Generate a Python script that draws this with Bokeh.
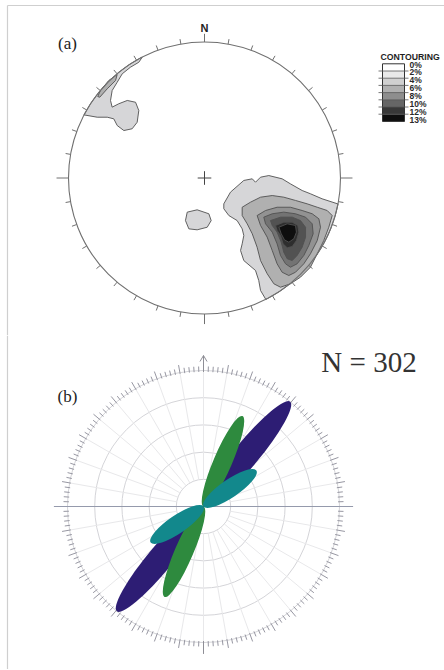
import numpy as np
from bokeh.plotting import figure
from bokeh.layouts import column
from bokeh.models import Range1d
from bokeh.core.properties import value
from bokeh.embed import file_html
from bokeh.resources import INLINE

# ---------------- DATA ----------------
# (a) contour outlines, stereonet units (primitive circle radius = 1)
se_2_x = [0.451, 0.412, 0.399, 0.375, 0.289, 0.265, 0.277, 0.289, 0.277, 0.240, 0.179, 0.142,
          0.142, 0.191, 0.289, 0.351, 0.375, 0.412, 0.473, 0.571, 0.632, 0.718, 0.779, 0.865, 0.982]
se_2_y = [-0.893, -0.827, -0.754, -0.680, -0.607, -0.533, -0.484, -0.423, -0.374, -0.313, -0.276, -0.226,
          -0.190, -0.104, -0.018, -0.006, -0.031, 0.006, 0.018, -0.006, -0.043, -0.092, -0.116, -0.153, -0.191]
se_4_x = [0.277, 0.338, 0.412, 0.498, 0.583, 0.669, 0.755, 0.829, 0.902, 0.939, 0.914, 0.877,
          0.829, 0.779, 0.706, 0.632, 0.559, 0.510, 0.461, 0.412, 0.387, 0.351, 0.314, 0.277]
se_4_y = [-0.215, -0.178, -0.141, -0.129, -0.141, -0.165, -0.190, -0.215, -0.239, -0.276, -0.362, -0.460,
          -0.557, -0.656, -0.729, -0.778, -0.803, -0.778, -0.704, -0.607, -0.509, -0.410, -0.337, -0.276]
se_6_x = [0.387, 0.449, 0.534, 0.632, 0.718, 0.792, 0.841, 0.853, 0.829, 0.779, 0.730, 0.669,
          0.620, 0.571, 0.534, 0.498, 0.461, 0.412]
se_6_y = [-0.276, -0.239, -0.215, -0.215, -0.239, -0.263, -0.300, -0.362, -0.460, -0.557, -0.631, -0.693,
          -0.717, -0.693, -0.631, -0.533, -0.435, -0.349]
se_8_x = [0.436, 0.498, 0.583, 0.669, 0.743, 0.792, 0.799, 0.767, 0.730, 0.681, 0.632, 0.596,
          0.559, 0.534, 0.498, 0.449]
se_8_y = [-0.288, -0.263, -0.251, -0.263, -0.288, -0.337, -0.410, -0.496, -0.570, -0.631, -0.656, -0.631,
          -0.570, -0.484, -0.398, -0.337]
se_10_x = [0.485, 0.559, 0.645, 0.706, 0.743, 0.743, 0.718, 0.681, 0.645, 0.608, 0.583, 0.564, 0.534, 0.498]
se_10_y = [-0.313, -0.288, -0.288, -0.313, -0.362, -0.435, -0.509, -0.570, -0.607, -0.594, -0.546, -0.472,
           -0.398, -0.349]
se_12_x = [0.522, 0.583, 0.645, 0.686, 0.694, 0.676, 0.645, 0.608, 0.578, 0.559, 0.534]
se_12_y = [-0.349, -0.325, -0.325, -0.349, -0.398, -0.460, -0.504, -0.513, -0.484, -0.423, -0.386]
se_13_x = [0.547, 0.608, 0.669, 0.676, 0.657, 0.620, 0.588, 0.564]
se_13_y = [-0.362, -0.337, -0.349, -0.398, -0.447, -0.472, -0.455, -0.410]
mid_2_x = [-0.127, -0.054, 0.032, 0.049, 0.020, -0.054, -0.115, -0.140]
mid_2_y = [-0.251, -0.234, -0.263, -0.313, -0.362, -0.381, -0.374, -0.313]
nw_2_x = [-0.458, -0.483, -0.544, -0.605, -0.642, -0.679, -0.691, -0.679, -0.630, -0.568, -0.507,
          -0.483, -0.495, -0.532, -0.593, -0.642, -0.667, -0.715, -0.789, -0.886]
nw_2_y = [0.888, 0.851, 0.815, 0.766, 0.704, 0.643, 0.570, 0.521, 0.546, 0.570, 0.557,
          0.496, 0.410, 0.362, 0.349, 0.386, 0.435, 0.447, 0.447, 0.464]
nw_4_x = [-0.642, -0.654, -0.715, -0.770, -0.785, -0.765, -0.704]
nw_4_y = [0.761, 0.717, 0.656, 0.594, 0.599, 0.643, 0.717]

level_fill = {2: "#d6d6d8", 4: "#b0b0b0", 6: "#929292", 8: "#737373", 10: "#525252", 12: "#2e2e2e", 13: "#0e0e0e"}

legend_labels = ["0%", "2%", "4%", "6%", "8%", "10%", "12%", "13%"]
legend_colors = ["#ffffff", "#e9e9e9", "#d0d0d0", "#b0b0b0", "#8e8e8e", "#666666", "#383838", "#0e0e0e"]

# (b) rose diagram: mean azimuth (deg from N), petal length (ring units), petal width
rose_azimuth = [39.6, 23.3, 55.8]
rose_length = [5.0, 3.62, 2.35]
rose_width = [0.92, 0.68, 0.66]
rose_colors = ["#2d1d74", "#2e8a3e", "#12888c"]
rose_rings = [1, 2, 3, 4, 5]
n_label = "N = 302"

# ---------------- LAYOUT ----------------
W = 444
HA, HB = 335, 334
A_CX, A_CY, A_R = 204.0, 177.5, 136.0        # stereonet centre / radius in px
B_CX, B_CY, B_U = 203.0, 171.0, 27.2         # rose centre (px in panel b) / px per ring unit


def base_fig(h, cx, cy, u):
    p = figure(width=W, height=h, output_backend="svg", toolbar_location=None,
               x_range=Range1d(-cx / u, (W - cx) / u), y_range=Range1d(-(h - cy) / u, cy / u),
               x_axis_type=None, y_axis_type=None, min_border=0)
    p.grid.visible = False
    p.outline_line_color = None
    p.background_fill_color = "white"
    p.border_fill_color = "white"
    return p


def rim_close(xs, ys, n=40):
    a0 = np.arctan2(ys[-1], xs[-1])
    a1 = np.arctan2(ys[0], xs[0])
    d = (a1 - a0 + np.pi) % (2 * np.pi) - np.pi
    t = np.linspace(a0, a0 + d, n)
    return list(xs) + list(np.cos(t)), list(ys) + list(np.sin(t))


# ---------------- PANEL (a) ----------------
pa = base_fig(HA, A_CX, A_CY, A_R)
fx = lambda px: (px - A_CX) / A_R
fy = lambda py: (A_CY - py) / A_R

# frame
pa.segment(x0=[fx(7), fx(7)], y0=[fy(5), fy(5)], x1=[fx(7), fx(W)], y1=[fy(HA), fy(5)],
           line_color="#cfcfcf", line_width=1.2)

polys = []
sx, sy = rim_close(se_2_x, se_2_y)
polys.append((sx, sy, 2))
nx_, ny_ = rim_close(nw_2_x, nw_2_y)
polys.append((nx_, ny_, 2))
polys.append((mid_2_x, mid_2_y, 2))
polys.append((nw_4_x, nw_4_y, 4))
for xs, ys, lv in [(se_4_x, se_4_y, 4), (se_6_x, se_6_y, 6), (se_8_x, se_8_y, 8),
                   (se_10_x, se_10_y, 10), (se_12_x, se_12_y, 12), (se_13_x, se_13_y, 13)]:
    polys.append((xs, ys, lv))
pa.patches(xs=[p[0] for p in polys], ys=[p[1] for p in polys],
           fill_color=[level_fill[p[2]] for p in polys], line_color="#505050", line_width=0.9)

# primitive circle
pa.circle(x=[0], y=[0], radius=[1], fill_color=None, line_color="#707070", line_width=1.1)

# ticks every 10 deg
ang = np.arange(0, 360, 10)
minor = ang[ang % 90 != 0]
r_out = np.array([1.037] * len(minor))
pa.segment(x0=np.sin(np.radians(minor)), y0=np.cos(np.radians(minor)),
           x1=r_out * np.sin(np.radians(minor)), y1=r_out * np.cos(np.radians(minor)),
           line_color="#707070", line_width=1)
card = np.array([0, 90, 180, 270])
card_len = np.array([1.06, 1.088, 1.074, 1.088])
pa.segment(x0=np.sin(np.radians(card)), y0=np.cos(np.radians(card)),
           x1=card_len * np.sin(np.radians(card)), y1=card_len * np.cos(np.radians(card)),
           line_color="#707070", line_width=1)

# centre cross
pa.segment(x0=[-0.05, 0], y0=[0, -0.05], x1=[0.05, 0], y1=[0, 0.05], line_color="#444444", line_width=1)

pa.text(x=[0], y=[fy(27)], text=["N"], text_font=value("Liberation Sans"), text_font_style="bold",
        text_font_size="11px", text_align="center", text_baseline="middle", text_color="#222222")
pa.text(x=[fx(67)], y=[fy(43)], text=["(a)"], text_font=value("Liberation Serif"),
        text_font_size="17px", text_align="center", text_baseline="middle", text_color="#222222")

# legend
lx0, lx1 = 382.0, 404.0
ly0, lh = 63.3, 7.2
rows = np.arange(len(legend_labels))
pa.rect(x=[fx((lx0 + lx1) / 2)] * len(rows), y=[fy(ly0 + lh * (i + 0.5)) for i in rows],
        width=(lx1 - lx0) / A_R, height=lh / A_R, fill_color=legend_colors, line_color=None)
pa.rect(x=[fx((lx0 + lx1) / 2)], y=[fy(ly0 + lh * len(rows) / 2)], width=(lx1 - lx0) / A_R,
        height=lh * len(rows) / A_R, fill_color=None, line_color="#333333", line_width=1)
pa.segment(x0=[fx(378)] * 7, y0=[fy(ly0 + lh * k) for k in range(1, 8)],
           x1=[fx(408)] * 7, y1=[fy(ly0 + lh * k) for k in range(1, 8)],
           line_color="#555555", line_width=0.8)
pa.text(x=[fx(409)] * len(rows), y=[fy(64 + 7.9 * i) for i in rows], text=legend_labels,
        text_font=value("Liberation Sans"), text_font_style="bold", text_font_size="8.5px",
        text_align="left", text_baseline="middle", text_color="#2a2a2a")
pa.text(x=[fx(380)], y=[fy(56)], text=["CONTOURING"], text_font=value("Liberation Sans"),
        text_font_style="bold", text_font_size="8.7px", text_align="left", text_baseline="middle",
        text_color="#1e1e1e")

# ---------------- PANEL (b) ----------------
pb = base_fig(HB, B_CX, B_CY, B_U)
gx = lambda px: (px - B_CX) / B_U
gy = lambda py: (B_CY - py) / B_U

pb.segment(x0=[gx(7)], y0=[gy(0)], x1=[gx(7)], y1=[gy(HB)], line_color="#cfcfcf", line_width=1.2)

# grid rings and radial lines
pb.circle(x=[0] * len(rose_rings), y=[0] * len(rose_rings), radius=rose_rings, fill_color=None,
          line_color="#d4d4d8", line_width=1)
rad = np.radians(np.arange(0, 360, 10))
pb.segment(x0=1 * np.sin(rad), y0=1 * np.cos(rad), x1=5 * np.sin(rad), y1=5 * np.cos(rad),
           line_color="#e8e8ea", line_width=1)

# outer ruler ticks (2 deg, longer every 10 deg)
tdeg = np.arange(0, 360, 2)
tr = np.radians(tdeg)
tl = np.where(tdeg % 10 == 0, 5.28, 5.15)
pb.segment(x0=4.95 * np.sin(tr), y0=4.95 * np.cos(tr), x1=tl * np.sin(tr), y1=tl * np.cos(tr),
           line_color="#9797a2", line_width=1)

# axes lines
pb.segment(x0=[-5.5], y0=[0], x1=[5.5], y1=[0], line_color="#959aac", line_width=1)
pb.segment(x0=[0, 0, 0, 0], y0=[4.95, 5.55, 5.55, -4.95], x1=[0, -0.13, 0.13, 0], y1=[5.55, 5.33, 5.33, -5.42],
           line_color="#8e8e96", line_width=1)

# petals (two lobes each)
ex, ey, ew, eh, ea, ec = [], [], [], [], [], []
for az, L, w, c in zip(rose_azimuth, rose_length, rose_width, rose_colors):
    a = np.radians(az)
    for s in (1, -1):
        ex.append(s * L / 2 * np.sin(a))
        ey.append(s * L / 2 * np.cos(a))
        ew.append(L)
        eh.append(w)
        ea.append(np.pi / 2 - a)
        ec.append(c)
pb.ellipse(x=ex, y=ey, width=ew, height=eh, angle=ea, fill_color=ec, line_color=None)

pb.text(x=[gx(67)], y=[gy(61)], text=["(b)"], text_font=value("Liberation Serif"),
        text_font_size="17px", text_align="center", text_baseline="middle", text_color="#222222")
pb.text(x=[gx(368.5)], y=[gy(26)], text=[n_label], text_font=value("Liberation Serif"),
        text_font_size="29px", text_align="center", text_baseline="middle", text_color="#333333")

layout = column(pa, pb, spacing=0)
open("out.html", "w").write(file_html(layout, INLINE))
